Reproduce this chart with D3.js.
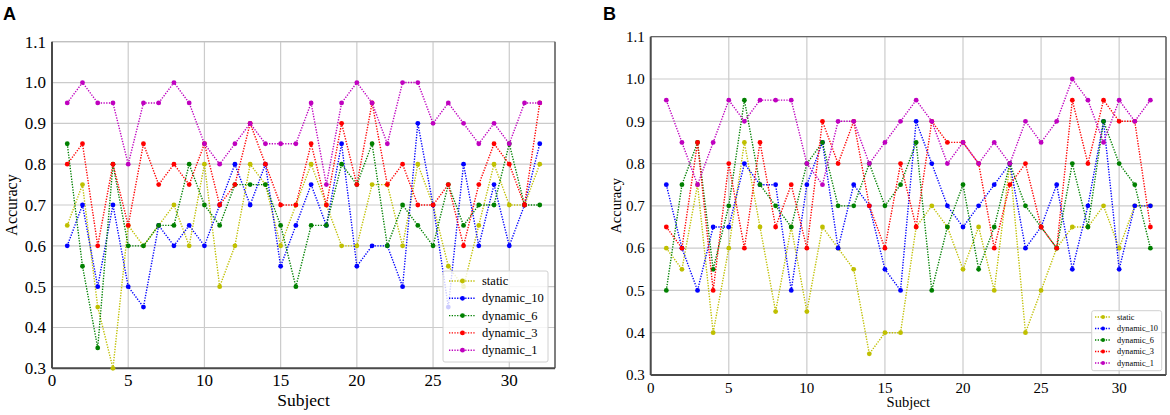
<!DOCTYPE html>
<html>
<head>
<meta charset="utf-8">
<script src="https://cdn.jsdelivr.net/npm/d3@7"></script>
<style>
  body { margin: 0; background: #fff; }
  svg { display: block; }
</style>
</head>
<body>
<svg width="1170" height="415"></svg>
<script>
const subjects = [1, 2, 3, 4, 5, 6, 7, 8, 9, 10, 11, 12, 13, 14, 15, 16,
  17, 18, 19, 20, 21, 22, 23, 24, 25, 26, 27, 28, 29, 30, 31, 32];
const seriesNames = ['static', 'dynamic_10', 'dynamic_6', 'dynamic_3', 'dynamic_1'];
const seriesColors = ['#bfbf00', '#0000ff', '#008000', '#ff0000', '#bf00bf'];
const xTicks = [0, 5, 10, 15, 20, 25, 30];
const yTicks = [0.3, 0.4, 0.5, 0.6, 0.7, 0.8, 0.9, 1.0, 1.1];

// panel A
const aStatic = [0.65, 0.75, 0.45, 0.3, 0.65, 0.6, 0.65, 0.7, 0.6, 0.8, 0.5, 0.6, 0.8, 0.75, 0.6, 0.7,
  0.8, 0.7, 0.6, 0.6, 0.75, 0.75, 0.6, 0.8, 0.7, 0.55, 0.5, 0.65, 0.8, 0.7, 0.7, 0.8];
const aDyn10 = [0.6, 0.7, 0.5, 0.7, 0.5, 0.45, 0.65, 0.6, 0.65, 0.6, 0.7, 0.8, 0.7, 0.8, 0.55, 0.65,
  0.75, 0.65, 0.85, 0.55, 0.6, 0.6, 0.5, 0.9, 0.7, 0.45, 0.8, 0.6, 0.75, 0.6, 0.7, 0.85];
const aDyn6 = [0.85, 0.55, 0.35, 0.8, 0.6, 0.6, 0.65, 0.65, 0.8, 0.7, 0.65, 0.75, 0.75, 0.75, 0.65, 0.5,
  0.65, 0.65, 0.8, 0.75, 0.85, 0.6, 0.7, 0.65, 0.6, 0.75, 0.65, 0.7, 0.7, 0.85, 0.7, 0.7];
const aDyn3 = [0.8, 0.85, 0.6, 0.8, 0.65, 0.85, 0.75, 0.8, 0.75, 0.85, 0.7, 0.75, 0.9, 0.8, 0.7, 0.7,
  0.85, 0.7, 0.9, 0.75, 0.95, 0.75, 0.8, 0.7, 0.7, 0.75, 0.6, 0.75, 0.85, 0.8, 0.7, 0.95];
const aDyn1 = [0.95, 1.0, 0.95, 0.95, 0.8, 0.95, 0.95, 1.0, 0.95, 0.85, 0.8, 0.85, 0.9, 0.85, 0.85, 0.85,
  0.95, 0.75, 0.95, 1.0, 0.95, 0.85, 1.0, 1.0, 0.9, 0.95, 0.9, 0.85, 0.9, 0.85, 0.95, 0.95];

// panel B
const bStatic = [0.6, 0.55, 0.75, 0.4, 0.6, 0.85, 0.65, 0.45, 0.65, 0.45, 0.65, 0.6, 0.55, 0.35, 0.4, 0.4,
  0.65, 0.7, 0.65, 0.55, 0.65, 0.5, 0.8, 0.4, 0.5, 0.6, 0.65, 0.65, 0.7, 0.6, 0.7, 0.7];
const bDyn10 = [0.75, 0.6, 0.5, 0.65, 0.65, 0.8, 0.75, 0.75, 0.5, 0.75, 0.85, 0.6, 0.75, 0.7, 0.55, 0.5,
  0.9, 0.8, 0.7, 0.65, 0.7, 0.75, 0.8, 0.6, 0.65, 0.75, 0.55, 0.7, 0.9, 0.55, 0.7, 0.7];
const bDyn6 = [0.5, 0.75, 0.85, 0.55, 0.7, 0.95, 0.75, 0.7, 0.65, 0.8, 0.85, 0.7, 0.7, 0.8, 0.7, 0.75,
  0.85, 0.5, 0.65, 0.75, 0.55, 0.65, 0.8, 0.7, 0.65, 0.6, 0.8, 0.65, 0.9, 0.8, 0.75, 0.6];
const bDyn3 = [0.65, 0.6, 0.85, 0.5, 0.8, 0.6, 0.85, 0.65, 0.75, 0.6, 0.9, 0.8, 0.9, 0.7, 0.6, 0.8,
  0.65, 0.9, 0.85, 0.85, 0.8, 0.6, 0.75, 0.8, 0.65, 0.6, 0.95, 0.8, 0.95, 0.9, 0.9, 0.65];
const bDyn1 = [0.95, 0.85, 0.75, 0.85, 0.95, 0.9, 0.95, 0.95, 0.95, 0.8, 0.75, 0.9, 0.9, 0.8, 0.85, 0.9,
  0.95, 0.9, 0.8, 0.85, 0.8, 0.85, 0.8, 0.9, 0.85, 0.9, 1.0, 0.95, 0.85, 0.95, 0.9, 0.95];

const SERIF = '"Liberation Serif", "Times New Roman", serif';

const accuracyPanel = (svg, props) => {
  const {
    letter, letterX, left, right, top, bottom, series,
    tickFont, xLabelFont, yLabelFont, yLabelX, xTickBase, xLabelBase,
    topSpine, legend
  } = props;

  const x = d3.scaleLinear().domain([0, 33]).range([left, right]);
  const y = d3.scaleLinear().domain([0.3, 1.1]).range([bottom, top]);

  const g = svg.append('g');

  g.append('text')
    .attr('x', letterX).attr('y', 20)
    .style('font-family', '"Liberation Sans", Arial, sans-serif')
    .style('font-weight', 'bold').style('font-size', '18px')
    .text(letter);

  // grid
  g.append('g').selectAll('line').data(xTicks).join('line')
    .attr('x1', d => x(d)).attr('x2', d => x(d))
    .attr('y1', top).attr('y2', bottom)
    .attr('stroke', '#cbcbcb').attr('stroke-width', 1.2);
  g.append('g').selectAll('line').data(yTicks).join('line')
    .attr('x1', left).attr('x2', right)
    .attr('y1', d => y(d)).attr('y2', d => y(d))
    .attr('stroke', '#cbcbcb').attr('stroke-width', 1.2);

  // spines
  g.append('line').attr('x1', left).attr('x2', right).attr('y1', top).attr('y2', top)
    .attr('stroke', topSpine).attr('stroke-width', 1.3);
  g.append('line').attr('x1', right).attr('x2', right).attr('y1', top).attr('y2', bottom)
    .attr('stroke', '#555').attr('stroke-width', 1.5);
  g.append('line').attr('x1', left).attr('x2', left).attr('y1', top).attr('y2', bottom)
    .attr('stroke', '#4a4a4a').attr('stroke-width', 2);
  g.append('line').attr('x1', left).attr('x2', right).attr('y1', bottom).attr('y2', bottom)
    .attr('stroke', '#4a4a4a').attr('stroke-width', 2);

  // tick labels
  g.append('g').selectAll('text').data(yTicks).join('text')
    .attr('x', left - 6).attr('y', d => y(d)).attr('dy', '0.35em')
    .attr('text-anchor', 'end')
    .style('font-family', SERIF).style('font-size', tickFont + 'px')
    .text(d => d3.format('.1f')(d));
  g.append('g').selectAll('text').data(xTicks).join('text')
    .attr('x', d => x(d)).attr('y', xTickBase)
    .attr('text-anchor', 'middle')
    .style('font-family', SERIF).style('font-size', tickFont + 'px')
    .text(d => d);

  g.append('text')
    .attr('transform', `translate(${yLabelX},${(top + bottom) / 2}) rotate(-90)`)
    .attr('text-anchor', 'middle').attr('dy', '0.35em')
    .style('font-family', SERIF).style('font-size', yLabelFont + 'px')
    .text('Accuracy');
  g.append('text')
    .attr('x', (left + right) / 2).attr('y', xLabelBase)
    .attr('text-anchor', 'middle')
    .style('font-family', SERIF).style('font-size', xLabelFont + 'px')
    .text('Subject');

  // series
  const line = d3.line().x(d => x(d[0])).y(d => y(d[1]));
  const plot = g.append('g');
  series.forEach((vals, i) => {
    const pts = subjects.map((s, j) => [s, vals[j]]);
    plot.append('path')
      .attr('d', line(pts))
      .attr('fill', 'none')
      .attr('stroke', seriesColors[i])
      .attr('stroke-width', 1.4)
      .attr('stroke-dasharray', '1.3,1.4');
    plot.append('g').selectAll('circle').data(pts).join('circle')
      .attr('cx', d => x(d[0])).attr('cy', d => y(d[1]))
      .attr('r', 2.4)
      .attr('fill', seriesColors[i]);
  });

  // legend
  const lg = g.append('g');
  lg.append('rect')
    .attr('x', legend.x).attr('y', legend.y)
    .attr('width', legend.w).attr('height', legend.h)
    .attr('rx', 2)
    .attr('fill', '#fff').attr('fill-opacity', 0.8)
    .attr('stroke', '#d0d0d0').attr('stroke-width', 1);
  seriesNames.forEach((name, i) => {
    const yy = legend.y + legend.first + i * legend.step;
    lg.append('line')
      .attr('x1', legend.hx).attr('x2', legend.hx + legend.hw)
      .attr('y1', yy).attr('y2', yy)
      .attr('stroke', seriesColors[i]).attr('stroke-width', 1.4)
      .attr('stroke-dasharray', '1.3,1.4');
    lg.append('circle')
      .attr('cx', legend.hx + legend.hw / 2).attr('cy', yy)
      .attr('r', legend.r).attr('fill', seriesColors[i]);
    lg.append('text')
      .attr('x', legend.tx).attr('y', yy).attr('dy', '0.32em')
      .style('font-family', SERIF).style('font-size', legend.font + 'px')
      .text(name);
  });
};

const svg = d3.select('svg');

svg.call(accuracyPanel, {
  letter: 'A', letterX: 3,
  left: 52, right: 555, top: 41.7, bottom: 368.3,
  series: [aStatic, aDyn10, aDyn6, aDyn3, aDyn1],
  tickFont: 17, xLabelFont: 17.5, yLabelFont: 16, yLabelX: 11.5,
  xTickBase: 386, xLabelBase: 406,
  topSpine: '#c0c0c0',
  legend: { x: 443, y: 271, w: 105, h: 91, first: 10, step: 17.3,
    hx: 449, hw: 27, r: 2.4, tx: 482, font: 12.5 }
});

svg.call(accuracyPanel, {
  letter: 'B', letterX: 603,
  left: 650.7, right: 1166, top: 36.7, bottom: 375,
  series: [bStatic, bDyn10, bDyn6, bDyn3, bDyn1],
  tickFont: 15, xLabelFont: 14.5, yLabelFont: 14.5, yLabelX: 616,
  xTickBase: 393, xLabelBase: 407,
  topSpine: '#666',
  legend: { x: 1091.7, y: 310.7, w: 70, h: 60, first: 6.3, step: 11.5,
    hx: 1095, hw: 16, r: 2, tx: 1117, font: 8.3 }
});
</script>
</body>
</html>
